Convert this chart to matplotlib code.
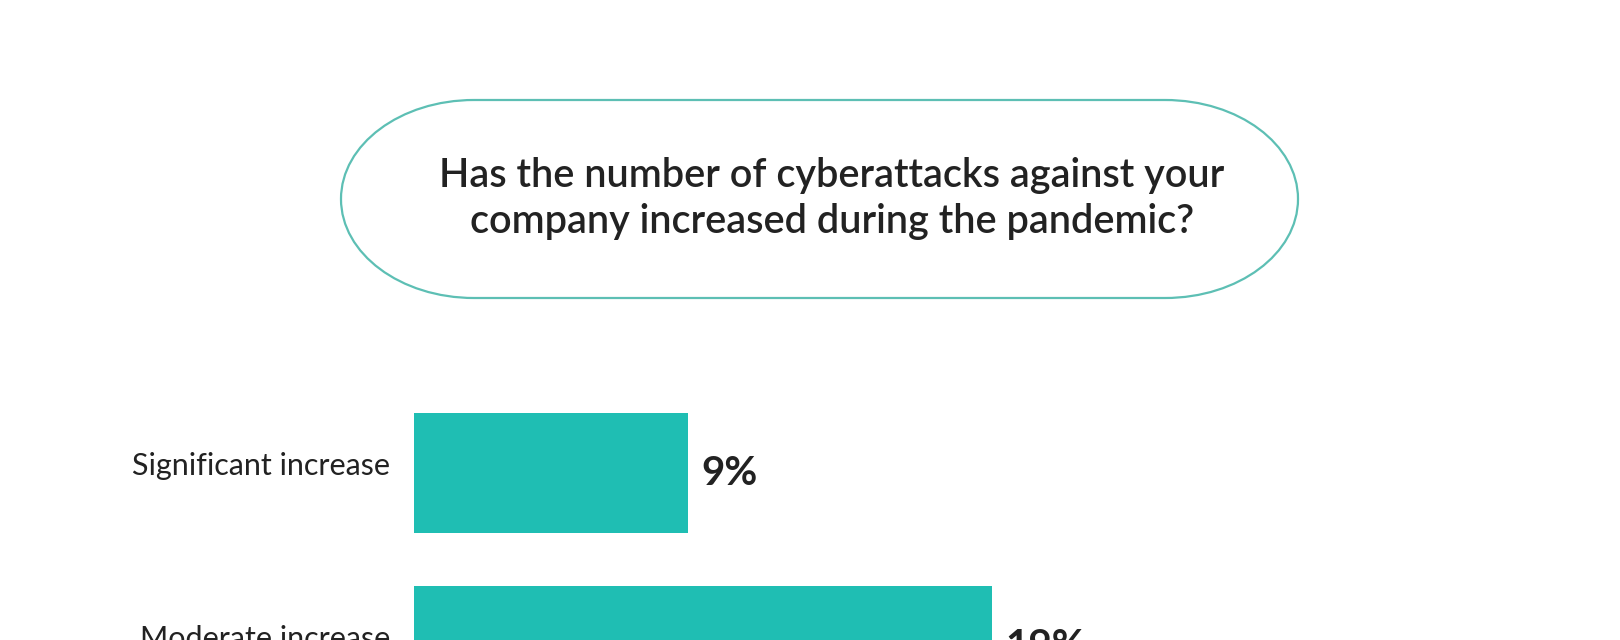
import matplotlib
matplotlib.use("Agg")
import matplotlib.pyplot as plt
from matplotlib.path import Path
from matplotlib.patches import PathPatch

# data
categories = ["Significant increase", "Moderate increase"]
values = [9, 19]
value_labels = ["9%", "19%"]
title_lines = ["Has the number of cyberattacks against your",
               "company increased during the pandemic?"]

BAR_COLOR = "#1fbeb3"
EDGE_COLOR = "#5dbfb4"
TEXT_COLOR = "#222222"

plt.rcParams['font.family'] = ['Lato', 'DejaVu Sans']

W, H = 1620, 640
fig = plt.figure(figsize=(W / 100, H / 100), dpi=100)
fig.patch.set_facecolor("white")


def capsule_path(x0, y0, x1, y1, rx):
    # flat top/bottom with elliptical ends
    ry = (y1 - y0) / 2
    k = 0.5523
    cy = (y0 + y1) / 2
    a, b = x0 + rx, x1 - rx
    verts = [(a, y0), (b, y0),
             (b + k * rx, y0), (x1, cy - k * ry), (x1, cy),
             (x1, cy + k * ry), (b + k * rx, y1), (b, y1),
             (a, y1),
             (a - k * rx, y1), (x0, cy + k * ry), (x0, cy),
             (x0, cy - k * ry), (a - k * rx, y0), (a, y0)]
    codes = [Path.MOVETO, Path.LINETO,
             Path.CURVE4, Path.CURVE4, Path.CURVE4,
             Path.CURVE4, Path.CURVE4, Path.CURVE4,
             Path.LINETO,
             Path.CURVE4, Path.CURVE4, Path.CURVE4,
             Path.CURVE4, Path.CURVE4, Path.CURVE4]
    return Path(verts, codes)


# overlay axes in pixel units for the title capsule
bg = fig.add_axes([0, 0, 1, 1])
bg.set_xlim(0, W)
bg.set_ylim(H, 0)
bg.axis("off")
bg.add_patch(PathPatch(capsule_path(341, 100, 1298, 298, 133),
                       facecolor="white", edgecolor=EDGE_COLOR, linewidth=1.6))
bg.text(832, 187, title_lines[0], ha="center", va="baseline",
        fontsize=28.5, fontweight="semibold", color=TEXT_COLOR)
bg.text(832, 233, title_lines[1], ha="center", va="baseline",
        fontsize=28.5, fontweight="semibold", color=TEXT_COLOR)

# bar axes: 0% at x=414px, ~30.4 px per percent
px_per_pct = 30.4
left_px = 414
top_px, bottom_px = 380, 640
pitch = 173
first_center = 473
ax = fig.add_axes([left_px / W, 0, (W - left_px) / W, (bottom_px - top_px) / H])
ax.set_xlim(0, (W - left_px) / px_per_pct)
ax.set_ylim((bottom_px - first_center) / pitch, (top_px - first_center) / pitch)
ax.axis("off")

ypos = list(range(len(categories)))
ax.barh(ypos, values, height=120 / pitch, color=BAR_COLOR, align="center")

for y, v, lab, cat in zip(ypos, values, value_labels, categories):
    ax.annotate(lab, xy=(v, y), xytext=(10, -8.6), textcoords="offset points",
                ha="left", va="baseline", fontsize=29, fontweight="bold",
                color=TEXT_COLOR, annotation_clip=False)
    ax.annotate(cat, xy=(0, y), xytext=(-17, -1.5), textcoords="offset points",
                ha="right", va="baseline", fontsize=22, color=TEXT_COLOR,
                annotation_clip=False)

fig.savefig("out.png", dpi=100, facecolor="white")
